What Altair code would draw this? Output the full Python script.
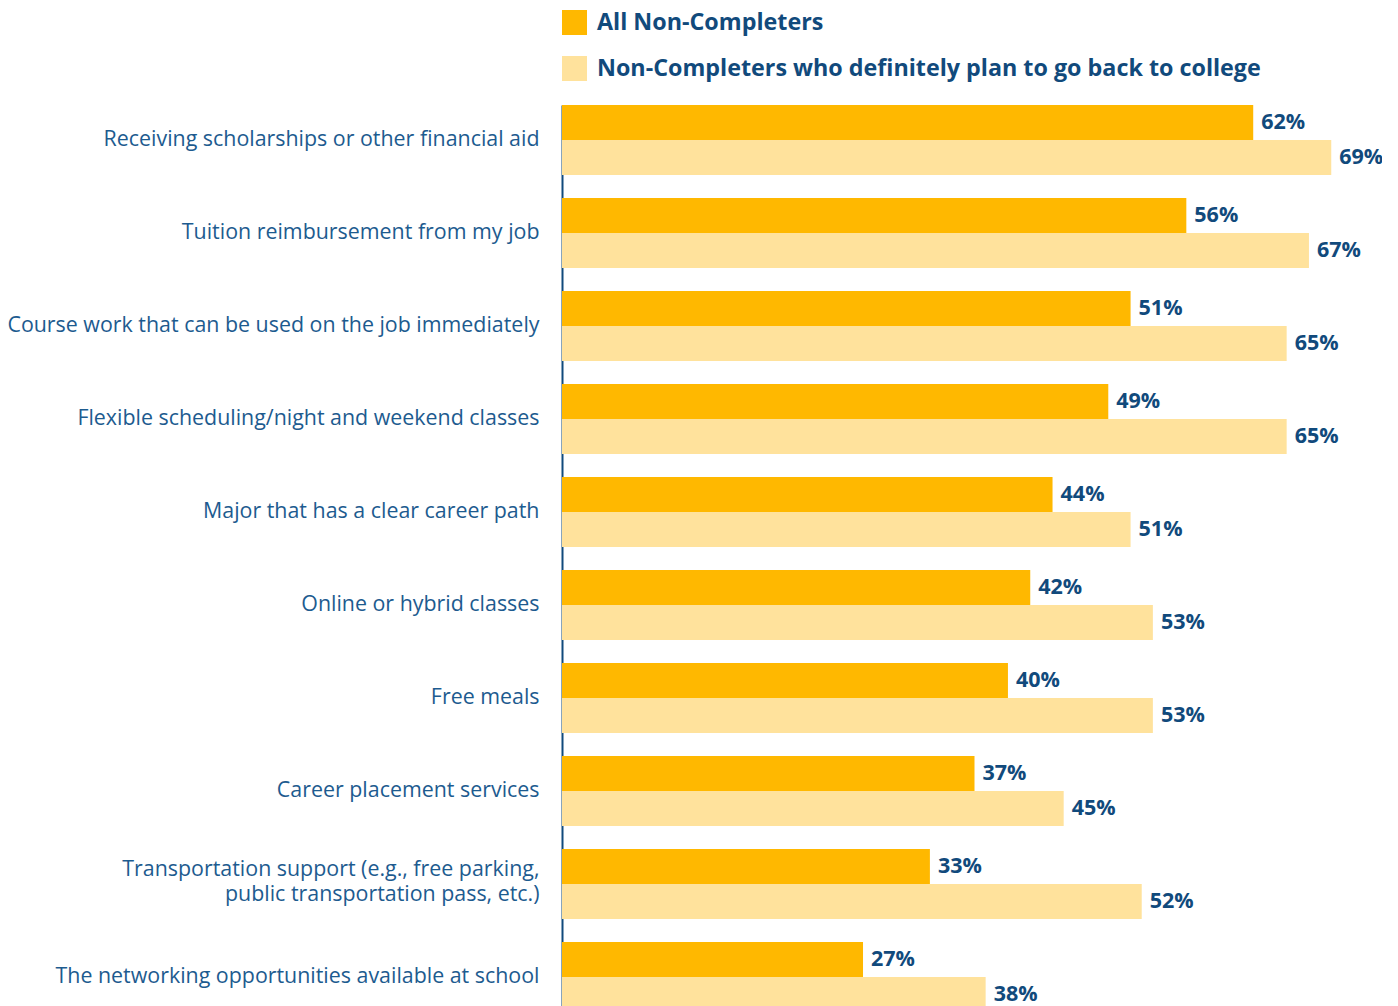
import altair as alt
import pandas as pd

categories = [
    "Receiving scholarships or other financial aid",
    "Tuition reimbursement from my job",
    "Course work that can be used on the job immediately",
    "Flexible scheduling/night and weekend classes",
    "Major that has a clear career path",
    "Online or hybrid classes",
    "Free meals",
    "Career placement services",
    "Transportation support (e.g., free parking,\npublic transportation pass, etc.)",
    "The networking opportunities available at school",
]
series = ["All Non-Completers", "Non-Completers who definitely plan to go back to college"]
all_non_completers = [62, 56, 51, 49, 44, 42, 40, 37, 33, 27]
plan_to_return = [69, 67, 65, 65, 51, 53, 53, 45, 52, 38]

rows = []
for c, a, b in zip(categories, all_non_completers, plan_to_return):
    rows.append({"category": c, "series": series[0], "value": a, "label": f"{a}%"})
    rows.append({"category": c, "series": series[1], "value": b, "label": f"{b}%"})
df = pd.DataFrame(rows)

FONT = "Open Sans"
LABEL_BLUE = "#1d5b8f"
DARK_BLUE = "#114a7c"

y_enc = alt.Y(
    "category:N",
    sort=categories,
    scale=alt.Scale(paddingInner=23 / 93, paddingOuter=0),
    axis=alt.Axis(
        title=None,
        ticks=False,
        domain=True,
        domainColor=DARK_BLUE,
        domainWidth=2,
        labelPadding=23,
        labelFont=FONT,
        labelFontSize=21.4,
        labelColor=LABEL_BLUE,
        labelLimit=600,
        labelLineHeight=25,
        labelExpr="split(datum.label, '\\n')",
        labelOffset={"condition": {"test": "indexof(datum.value, '\\n') >= 0", "value": -14}, "value": 0},
    ),
)
y_off = alt.YOffset("series:N", sort=series, scale=alt.Scale(paddingInner=0, paddingOuter=0))
x_enc = alt.X("value:Q", scale=alt.Scale(domain=[0, 74], range=[0, 825]), axis=None)

bars = alt.Chart(df).mark_bar().encode(
    y=y_enc,
    yOffset=y_off,
    x=x_enc,
    color=alt.Color(
        "series:N",
        scale=alt.Scale(domain=series, range=["#ffb800", "#ffe29c"]),
        legend=alt.Legend(
            title=None,
            orient="none",
            legendX=0,
            legendY=-95,
            symbolType="square",
            symbolSize=625,
            symbolStrokeWidth=0,
            symbolOpacity=1,
            labelFont=FONT,
            labelFontSize=23.3,
            labelFontWeight="bold",
            labelColor=DARK_BLUE,
            labelOffset=10,
            labelLimit=900,
            rowPadding=21,
            padding=0,
        ),
    ),
)

texts = alt.Chart(df).mark_text(
    align="left", baseline="middle", dx=8, font=FONT, fontSize=21.5, fontWeight="bold", color=DARK_BLUE
).encode(
    y=alt.Y("category:N", sort=categories),
    yOffset=y_off,
    x=x_enc,
    text="label:N",
)

chart = (
    alt.layer(bars, texts)
    .properties(
        width=820,
        height=907,
        autosize=alt.AutoSizeParams(type="none"),
        padding={"left": 554, "top": 97, "right": 0, "bottom": 0},
    )
    .configure(background="white")
    .configure_view(strokeWidth=0, stroke=None)
)

chart.save("out.html", embed_options={"renderer": "svg", "actions": False})
